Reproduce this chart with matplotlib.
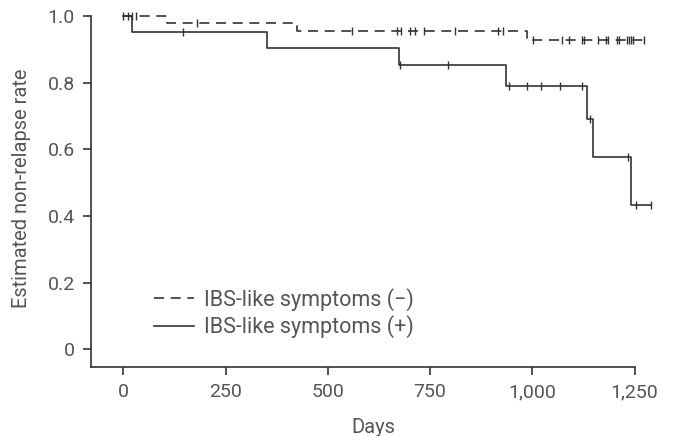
import numpy as np
import matplotlib
matplotlib.use("Agg")
import matplotlib.pyplot as plt

# ---- data ----
neg_label = "IBS-like symptoms (\u2212)"
pos_label = "IBS-like symptoms (+)"

neg_step_days = [0, 107, 425, 986]
neg_step_surv = [1.0, 0.977, 0.953, 0.927]
neg_last_day = 1273
neg_censor_days = [0, 10, 30, 179, 559, 669, 678, 701, 712, 734, 811, 915, 929,
                   1002, 1072, 1090, 1121, 1126, 1160, 1180, 1185, 1206, 1212,
                   1232, 1237, 1242, 1247, 1273]

pos_step_days = [0, 22, 351, 673, 936, 1133, 1149, 1241]
pos_step_surv = [1.0, 0.952, 0.903, 0.854, 0.790, 0.691, 0.577, 0.433]
pos_last_day = 1289
pos_censor_days = [20, 146, 675, 793, 943, 986, 1021, 1068, 1121, 1141, 1234, 1253, 1289]

x_ticks = [0, 250, 500, 750, 1000, 1250]
x_tick_labels = ["0", "250", "500", "750", "1,000", "1,250"]
y_ticks = [0, 0.2, 0.4, 0.6, 0.8, 1.0]
y_tick_labels = ["0", "0.2", "0.4", "0.6", "0.8", "1.0"]

# ---- style ----
plt.rcParams['font.family'] = ['Roboto', 'DejaVu Sans']
plt.rcParams['font.weight'] = 'normal'
line_col = '#333333'
text_col = '#555555'

fig = plt.figure(figsize=(6.74, 4.36), dpi=100)
ax = fig.add_axes([0.1346, 0.1576, 0.8374, 0.8214])


def surv_at(days, surv, t):
    idx = np.searchsorted(days, t, side='right') - 1
    return np.asarray(surv)[idx]


def draw_curve(step_days, step_surv, last_day, censor_days, ls, label):
    xs = list(step_days) + [last_day]
    ys = list(step_surv) + [step_surv[-1]]
    ax.step(xs, ys, where='post', color=line_col, lw=1.2, ls=ls,
            label=label, clip_on=False)
    cy = [surv_at(step_days, step_surv, t) for t in censor_days]
    ax.plot(censor_days, cy, ls='none', marker='|', ms=6, mew=1.0,
            color=line_col, clip_on=False)


draw_curve(neg_step_days, neg_step_surv, neg_last_day, neg_censor_days,
           (0, (6, 4)), neg_label)
draw_curve(pos_step_days, pos_step_surv, pos_last_day, pos_censor_days,
           '-', pos_label)

ax.set_xlim(-80, 1300)
ax.set_ylim(-0.054, 1.02)
ax.spines['top'].set_visible(False)
ax.spines['right'].set_visible(False)
ax.spines['left'].set_bounds(-0.054, 1.0)
ax.spines['bottom'].set_bounds(-80, 1250)
for s in ('left', 'bottom'):
    ax.spines[s].set_color(line_col)
    ax.spines[s].set_linewidth(1.2)

ax.set_xticks(x_ticks)
ax.set_xticklabels(x_tick_labels)
ax.set_yticks(y_ticks)
ax.set_yticklabels(y_tick_labels)
ax.tick_params(axis='both', direction='out', length=5.5, width=1.2,
               color=line_col, labelcolor=text_col, labelsize=14, pad=6)

ax.set_xlabel("Days", color=text_col, fontsize=14.5, labelpad=12)
ax.set_ylabel("Estimated non-relapse rate", color=text_col, fontsize=14.5,
              labelpad=12)

leg = ax.legend(loc='upper left', bbox_to_anchor=(0.097, 0.245), frameon=False,
                prop={'size': 15.5}, handlelength=1.86,
                handletextpad=0.47, labelspacing=0.2, borderaxespad=0)
for t in leg.get_texts():
    t.set_color(text_col)

fig.savefig("out.png", dpi=100)
